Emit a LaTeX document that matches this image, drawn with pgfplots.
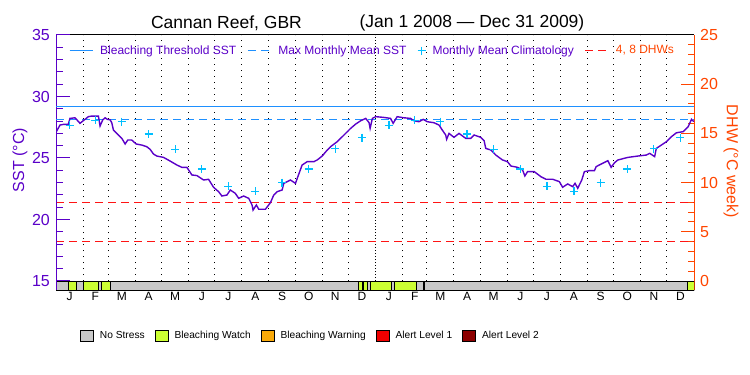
\documentclass[border=0pt]{standalone}
\usepackage{fontspec}
\setmainfont{Liberation Sans}
\usepackage{pgfplots}
\pgfplotsset{compat=1.18}
\definecolor{sstpurple}{RGB}{90,0,200}
\definecolor{dhworange}{RGB}{255,69,0}
\definecolor{thrblue}{RGB}{30,144,255}
\definecolor{climcyan}{RGB}{0,191,255}
\definecolor{dhwred}{RGB}{255,20,20}
\definecolor{nostress}{RGB}{200,200,200}
\definecolor{watch}{RGB}{204,255,51}
\definecolor{warning}{RGB}{250,170,10}
\definecolor{alertone}{RGB}{240,0,0}
\definecolor{alerttwo}{RGB}{140,0,0}

\pgfplotstableread{
day sst
0 27.09
4.6 27.68
8.4 27.73
14.1 27.73
16 28.22
21.8 28.27
27.5 27.82
31.4 28.04
37.1 28.36
41 28.41
48.6 28.41
50.5 27.6
53.5 28.09
56.2 28.27
58.9 28.14
62 28.11
63.9 27.87
65.8 27.27
69.6 27.0
75.4 26.6
79.2 26.14
82.2 26.46
86.8 26.46
91.8 26.14
98.3 26.05
104 25.92
107.9 25.7
111.7 25.32
115.5 25.16
123.2 25.05
130.8 24.75
138.5 24.43
144.2 24.24
150 24.24
155.7 23.62
161.5 23.57
169.1 23.21
174.8 23.27
180.5 22.62
186.3 22.26
190.1 21.91
195.9 21.99
199.7 22.4
205.4 22.13
209.3 21.72
215 21.91
220.8 21.72
224.6 21.18
225.8 20.77
229.6 21.18
232.3 20.83
239.9 20.83
245.7 21.37
249.5 21.99
253.4 22.26
259.1 22.4
261 22.94
268.6 23.21
274.4 22.94
277.1 23.48
282 24.43
287.8 24.7
295.4 24.7
299.3 24.84
305 25.16
310.8 25.65
314.6 25.92
322.3 26.33
328 26.73
333.8 27.14
337.6 27.41
343.4 27.76
349.1 28.03
354.9 28.22
358.7 27.87
359.9 27.41
362.5 28.22
366.4 28.36
375.6 28.3
383.3 28.22
386.3 27.82
390.9 28.36
398.6 28.27
406.2 28.22
410 28.03
415.8 27.95
420.8 28.14
425.4 27.95
433 27.87
438.8 27.68
442.6 27.27
446.5 26.87
447.6 26.52
450.3 27.0
456 26.68
461.8 27.0
469.4 26.6
475.2 26.6
479 26.87
486.7 26.68
490.5 26.41
492.4 25.78
498.2 25.65
503.9 25.24
511.6 24.84
517.3 24.7
521.2 24.35
528.8 24.24
534.6 24.03
537.2 23.54
540.3 23.89
548 23.89
555.6 23.48
561.4 23.27
569.1 23.27
576.7 23.08
580.5 22.62
586.3 22.89
592 22.67
594.7 22.94
597.8 22.54
602.4 23.21
605.4 23.89
611.2 23.97
616.9 23.97
618.9 24.3
624.6 24.51
632.3 24.78
636.1 24.24
640 24.62
643.8 24.84
655.3 25.05
666.8 25.16
676.3 25.24
680.2 25.38
685.9 25.11
687.8 25.78
693.6 26.05
699.4 26.33
705.1 26.73
710.8 27.05
718.5 27.14
724.3 27.54
728.1 28.14
731 27.95
}\ssttable

\pgfplotstableread{
day clim
15.5 27.65
45 28.05
75.5 27.95
106 26.95
136.5 25.7
167 24.1
197.5 22.7
228.5 22.3
259 23.0
289.5 24.1
320 25.75
350.5 26.65
381.5 27.65
411 28.05
440.5 27.95
471 26.95
501.5 25.7
532 24.1
562.5 22.7
593.5 22.3
624 23.0
654.5 24.1
685 25.75
715.5 26.65
}\climtable

\begin{document}
\begin{tikzpicture}[x=1pt,y=1pt]
\path[use as bounding box] (0,0) rectangle (750,375);

% ---------- right axis: DHW, stress bar, grid, month labels ----------
\begin{axis}[
  at={(56pt,85pt)}, anchor=south west,
  scale only axis, width=638pt, height=255pt,
  xmin=0, xmax=731, ymin=-0.9146, ymax=25,
  separate axis lines,
  y axis line style={dhworange, line width=1pt},
  x axis line style={black, line width=1pt},
  ytick={0,5,10,15,20,25},
  minor y tick num=4,
  ytick pos=right, yticklabel pos=right,
  tick align=inside,
  major tick length=13pt, minor tick length=6pt,
  y tick style={dhworange, line width=1pt},
  yticklabel style={text=dhworange, font=\fontsize{16}{16}\selectfont, inner sep=0pt, xshift=6pt},
  xtick={15.5,45,75.5,106,136.5,167,197.5,228.5,259,289.5,320,350.5,381.5,411,440.5,471,501.5,532,562.5,593.5,624,654.5,685,715.5},
  xticklabels={J,F,M,A,M,J,J,A,S,O,N,D,J,F,M,A,M,J,J,A,S,O,N,D},
  x tick style={draw=none},
  xticklabel style={font=\fontsize{12}{12}\selectfont, inner sep=0pt, yshift=-2pt},
  /pgf/number format/assume math mode=true,
  legend image code/.code={\draw[#1] (0pt,-5.5pt) rectangle (13pt,5.5pt);},
  legend columns=5,
  legend style={at={(axis description cs:0.0376,-0.180)}, anchor=west, draw=none, fill=none,
    font=\fontsize{10.2}{10.2}\selectfont, inner sep=0pt,
    /tikz/every even column/.append style={column sep=8pt},
    /tikz/every odd column/.append style={column sep=4pt}},
]
\pgfplotsinvokeforeach{31,60,91,121,152,182,213,244,274,305,335,397,425,456,486,517,547,578,609,639,670,700}{
  \addplot[black, line width=1pt, dash pattern=on 1pt off 5pt, forget plot] coordinates {(#1,0) (#1,25)};
}
\addplot[black, line width=1pt, dash pattern=on 1pt off 2pt, forget plot] coordinates {(366,0) (366,25)};

% stress bar
\addplot[fill=nostress, draw=black, line width=0.8pt, forget plot] coordinates {(0,-0.9146) (731,-0.9146) (731,0) (0,0)} --cycle;
\addplot[fill=watch, draw=black, line width=0.8pt, forget plot] coordinates {(14.1,-0.9146) (23,-0.9146) (23,0) (14.1,0)} --cycle;
\addplot[fill=watch, draw=black, line width=0.8pt, forget plot] coordinates {(31.3,-0.9146) (48.5,-0.9146) (48.5,0) (31.3,0)} --cycle;
\addplot[fill=watch, draw=black, line width=0.8pt, forget plot] coordinates {(52.4,-0.9146) (62,-0.9146) (62,0) (52.4,0)} --cycle;
\addplot[fill=watch, draw=black, line width=0.8pt, forget plot] coordinates {(346,-0.9146) (351,-0.9146) (351,0) (346,0)} --cycle;
\addplot[fill=watch, draw=black, line width=0.8pt, forget plot] coordinates {(352.6,-0.9146) (357,-0.9146) (357,0) (352.6,0)} --cycle;
\addplot[fill=watch, draw=black, line width=0.8pt, forget plot] coordinates {(360,-0.9146) (384.3,-0.9146) (384.3,0) (360,0)} --cycle;
\addplot[fill=watch, draw=black, line width=0.8pt, forget plot] coordinates {(388,-0.9146) (413,-0.9146) (413,0) (388,0)} --cycle;
\addplot[fill=watch, draw=black, line width=0.8pt, forget plot] coordinates {(420.5,-0.9146) (422.5,-0.9146) (422.5,0) (420.5,0)} --cycle;
\addplot[fill=watch, draw=black, line width=0.8pt, forget plot] coordinates {(724,-0.9146) (731,-0.9146) (731,0) (724,0)} --cycle;

% DHW reference lines
\addplot[dhwred, line width=1pt, dash pattern=on 8pt off 5pt, forget plot] coordinates {(0,4) (731,4)};
\addplot[dhwred, line width=1pt, dash pattern=on 8pt off 5pt, forget plot] coordinates {(0,8) (731,8)};

\addlegendimage{fill=nostress, draw=black, line width=0.8pt}
\addlegendentry{No Stress}
\addlegendimage{fill=watch, draw=black, line width=0.8pt}
\addlegendentry{Bleaching Watch}
\addlegendimage{fill=warning, draw=black, line width=0.8pt}
\addlegendentry{Bleaching Warning}
\addlegendimage{fill=alertone, draw=black, line width=0.8pt}
\addlegendentry{Alert Level 1}
\addlegendimage{fill=alerttwo, draw=black, line width=0.8pt}
\addlegendentry{Alert Level 2}

\node[font=\fontsize{12.5}{12.5}\selectfont] at (axis cs:184.4,-0.9146) [yshift=-24pt] {2008};
\node[font=\fontsize{12.5}{12.5}\selectfont] at (axis cs:549.7,-0.9146) [yshift=-24pt] {2009};
\end{axis}

% ---------- left axis: SST ----------
\begin{axis}[
  at={(56pt,85pt)}, anchor=south west,
  scale only axis, width=638pt, height=255pt,
  xmin=0, xmax=731, ymin=14.2683, ymax=35,
  axis x line=none,
  axis y line*=left,
  y axis line style={sstpurple, line width=1pt, -},
  ytick={15,20,25,30,35}, minor y tick num=4,
  tick align=inside, major tick length=14pt, minor tick length=7pt,
  y tick style={sstpurple, line width=1pt},
  yticklabel style={text=sstpurple, font=\fontsize{16}{16}\selectfont, inner sep=0pt, xshift=-6pt},
  xtick=\empty,
  /pgf/number format/assume math mode=true,
  legend image code/.code={\draw[mark repeat=2,mark phase=2,#1] plot coordinates {(0pt,0pt) (11.5pt,0pt) (23pt,0pt)};},
  legend columns=4,
  legend style={at={(axis description cs:0.0204,0.939)}, anchor=west, draw=none, fill=none,
    font=\fontsize{12}{12}\selectfont, text=sstpurple, inner sep=0pt,
    /tikz/every even column/.append style={column sep=9pt},
    /tikz/every odd column/.append style={column sep=5pt}},
]
\addplot[thrblue, line width=1pt] coordinates {(0,29.15) (731,29.15)};
\addlegendentry{Bleaching Threshold SST}
\addplot[thrblue, line width=1.2pt, dash pattern=on 8pt off 5pt] coordinates {(0,28.1) (731,28.1)};
\addlegendentry{Max Monthly Mean SST}
\addplot[climcyan, only marks, mark=+, mark size=4pt, line width=1.2pt] table[x=day, y=clim] {\climtable};
\addlegendentry{Monthly Mean Climatology}
\addlegendimage{dhwred, line width=1pt, dash pattern=on 8pt off 5pt}
\addlegendentry{\textcolor{dhworange}{4, 8 DHWs}}
\addplot[sstpurple, line width=1.4pt, forget plot] table[x=day, y=sst] {\ssttable};
\end{axis}

\node[font=\fontsize{17.5}{17.5}\selectfont] at (226.5,352) {Cannan Reef, GBR};
\node[font=\fontsize{17.5}{17.5}\selectfont] at (472,352) {(Jan 1 2008 --- Dec 31 2009)};
\node[rotate=90, text=sstpurple, font=\fontsize{16}{16}\selectfont] at (20,215) {SST (°C)};
\node[rotate=-90, text=dhworange, font=\fontsize{16}{16}\selectfont] at (731,213.5) {DHW (°C week)};
\end{tikzpicture}
\end{document}
